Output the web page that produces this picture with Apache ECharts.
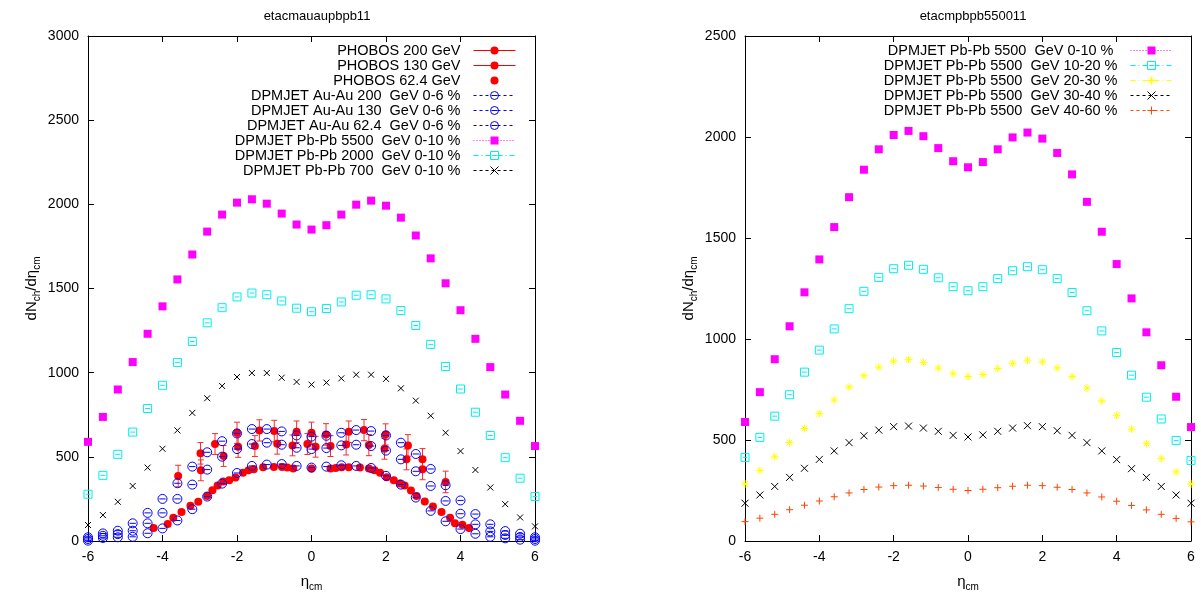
<!DOCTYPE html>
<html><head><meta charset="utf-8">
<script src="https://cdn.jsdelivr.net/npm/echarts@6/dist/echarts.min.js"></script>
<style>html,body{margin:0;padding:0;background:#fff}#c{width:1201px;height:597px}</style>
</head><body><div id="c"></div><script>
// ---------- data ----------
const xTicks = [-6, -4, -2, 0, 2, 4, 6];
const yTicksLeft = [0, 500, 1000, 1500, 2000, 2500, 3000];
const yTicksRight = [0, 500, 1000, 1500, 2000, 2500];
const titleLeft = 'etacmauaupbpb11';
const titleRight = 'etacmpbpb550011';

const etaGrid = [-6,-5.6,-5.2,-4.8,-4.4,-4,-3.6,-3.2,-2.8,-2.4,-2,-1.6,-1.2,-0.8,-0.4,0,0.4,0.8,1.2,1.6,2,2.4,2.8,3.2,3.6,4,4.4,4.8,5.2,5.6,6];

// DPMJET Pb-Pb
const pb5500_0_10 = [589,737,900,1063,1231,1394,1554,1702,1838,1939,2010,2030,2004,1945,1880,1850,1876,1939,1998,2022,1992,1921,1815,1679,1531,1371,1201,1033,870,714,564];
const pb2000_0_10 = [278,390,515,647,787,925,1061,1185,1296,1386,1450,1473,1463,1426,1383,1362,1381,1420,1460,1463,1438,1369,1280,1168,1037,903,765,627,495,373,264];
const pb700_0_10  = [95,154,233,327,436,548,657,761,848,921,974,998,998,970,945,929,941,966,988,988,963,907,834,744,643,534,422,318,219,140,87];
const pb5500_10_20 = [414,513,618,724,836,945,1050,1150,1236,1305,1348,1365,1345,1303,1259,1239,1259,1299,1338,1358,1343,1299,1230,1140,1040,933,821,712,604,498,399];
const pb5500_20_30 = [283,350,417,488,557,630,698,762,818,861,890,898,884,856,828,814,824,854,880,895,887,857,814,757,693,622,554,482,409,342,283];
const pb5500_30_40 = [187,228,270,315,360,404,446,487,521,549,566,569,559,543,523,515,525,543,559,571,566,546,523,487,446,403,358,315,270,228,187];
const pb5500_40_60 = [96,113,132,155,177,198,219,238,255,267,274,276,272,265,256,250,256,264,271,276,274,266,255,238,218,197,176,154,132,112,95];

// DPMJET Au-Au 0-6 %
const au200 = [22,45,61,105,167,250,343,442,527,593,639,665,665,651,627,620,625,643,659,653,627,584,517,428,331,241,160,99,59,43,22];
const au130 = [12,31,41,61,105,167,250,335,424,501,546,576,584,572,554,546,552,568,572,564,537,485,414,327,238,162,99,57,36,24,12];
const au624 = [2,18,22,25,46,75,122,189,264,341,404,446,454,457,446,436,442,450,446,434,387,335,258,179,117,71,43,25,16,8,2];

// PHOBOS
const ph200Eta = [-3.58,-2.98,-2.59,-2.0,-1.4,-1.0,-0.4,0,0.39,1.0,1.41,1.99,2.59,2.98,3.6];
const ph200Val = [386,521,576,643,657,653,649,643,633,649,659,633,568,485,351];
const ph200Err = [64,64,62,63,63,64,64,63,64,64,63,63,64,64,64];
const ph130Eta = [-2.97,-2.36,-1.97,-1.52,-0.92,-0.51,-0.11,0.11,0.51,0.93,1.54,1.96,2.55,2.98];
const ph130Val = [420,505,560,564,578,568,576,560,564,574,570,548,485,426];
const ph130Err = [62,62,63,62,62,62,62,62,62,63,63,62,62,62];
const ph624Eta = [-4.24,-3.86,-3.71,-3.49,-3.25,-3.04,-2.8,-2.66,-2.52,-2.37,-2.21,-2.04,-1.84,-1.69,-1.55,-1.3,-1.01,-0.79,-0.65,-0.49,0,0.51,0.65,0.81,1.0,1.3,1.54,1.69,1.84,2.02,2.21,2.37,2.5,2.67,2.82,3.04,3.26,3.49,3.72,3.85,4.05,4.23];
const ph624Val = [77,101,138,172,209,233,268,302,330,353,361,377,406,420,426,438,440,440,436,430,430,430,434,438,438,436,430,420,406,379,361,341,330,300,268,235,205,172,138,105,96,77];

// ---------- styling ----------
const FONT = 'Liberation Sans, Arial, sans-serif';
const SYM_CIRC = 'path://M0,10A10,10,0,1,1,20,10A10,10,0,1,1,0,10ZM3,10L17,10';
const SYM_SQ = 'path://M0,0L20,0L20,20L0,20ZM4,10L16,10';
const SYM_X = 'path://M0,0L20,20M20,0L0,20';
const SYM_PLUS = 'path://M10,0L10,20M0,10L20,10';
const SYM_STAR = 'path://M10,0L10,20M0,10L20,10M3,3L17,17M17,3L3,17';

function pairs(xs, ys) { return xs.map((x, i) => [x, ys[i]]); }

function ser(name, xs, ys, gi, symbol, size, color, filled, dash) {
  return {
    type: 'line', name: name, xAxisIndex: gi * 2, yAxisIndex: gi * 2,
    data: pairs(xs, ys), symbol: symbol, symbolSize: size, showSymbol: true,
    lineStyle: { opacity: 0, color: color, width: 1, type: dash },
    itemStyle: filled ? { color: color } : { color: 'none', borderColor: color, borderWidth: 1 },
    emphasis: { disabled: true }, animation: false, silent: true, clip: false
  };
}
function errSer(name, xs, ys, es) {
  return {
    type: 'custom', name: name, xAxisIndex: 0, yAxisIndex: 0, silent: true, animation: false,
    data: xs.map((x, i) => [x, ys[i], es[i]]),
    encode: { x: 0, y: 1 },
    renderItem: function (params, api) {
      const x = api.value(0), y = api.value(1), e = api.value(2);
      const p1 = api.coord([x, y + e]), p2 = api.coord([x, y - e]);
      const c = 3, st = { stroke: '#f03030', lineWidth: 1 };
      return { type: 'group', children: [
        { type: 'line', shape: { x1: p1[0], y1: p1[1], x2: p2[0], y2: p2[1] }, style: st },
        { type: 'line', shape: { x1: p1[0] - c, y1: p1[1], x2: p1[0] + c, y2: p1[1] }, style: st },
        { type: 'line', shape: { x1: p2[0] - c, y1: p2[1], x2: p2[0] + c, y2: p2[1] }, style: st }
      ]};
    }
  };
}

const RED = '#ff0000', BLUE = '#0000ff', MAG = '#ff00ff', CYAN = '#00eeee', BLACK = '#000000', YEL = '#ffff00', ORA = '#ff4500';
const DOT = [1, 2], DASHDOT = [5, 3, 1, 3], DASH = [3, 3];

const series = [
  errSer('e200', ph200Eta, ph200Val, ph200Err),
  errSer('e130', ph130Eta, ph130Val, ph130Err),
  ser('PHOBOS 200 GeV', ph200Eta, ph200Val, 0, 'circle', 8, RED, true, 'solid'),
  ser('PHOBOS 130 GeV', ph130Eta, ph130Val, 0, 'circle', 8, RED, true, 'solid'),
  ser('PHOBOS 62.4 GeV', ph624Eta, ph624Val, 0, 'circle', 8, RED, true, 'solid'),
  ser('DPMJET Au-Au 200  GeV 0-6 %', etaGrid, au200, 0, SYM_CIRC, 9, BLUE, false, DASH),
  ser('DPMJET Au-Au 130  GeV 0-6 %', etaGrid, au130, 0, SYM_CIRC, 9, BLUE, false, DASH),
  ser('DPMJET Au-Au 62.4  GeV 0-6 %', etaGrid, au624, 0, SYM_CIRC, 9, BLUE, false, DASH),
  ser('DPMJET Pb-Pb 5500  GeV 0-10 %', etaGrid, pb5500_0_10, 0, 'rect', 8, MAG, true, DOT),
  ser('DPMJET Pb-Pb 2000  GeV 0-10 %', etaGrid, pb2000_0_10, 0, SYM_SQ, 8, CYAN, false, DASHDOT),
  ser('DPMJET Pb-Pb 700  GeV 0-10 %', etaGrid, pb700_0_10, 0, SYM_X, 6, BLACK, false, DASH),
  ser('DPMJET Pb-Pb 5500  GeV 0-10 % ', etaGrid, pb5500_0_10, 1, 'rect', 8, MAG, true, DOT),
  ser('DPMJET Pb-Pb 5500  GeV 10-20 %', etaGrid, pb5500_10_20, 1, SYM_SQ, 8, CYAN, false, DASHDOT),
  ser('DPMJET Pb-Pb 5500  GeV 20-30 %', etaGrid, pb5500_20_30, 1, SYM_STAR, 8, YEL, false, DASHDOT),
  ser('DPMJET Pb-Pb 5500  GeV 30-40 %', etaGrid, pb5500_30_40, 1, SYM_X, 7, BLACK, false, DASH),
  ser('DPMJET Pb-Pb 5500  GeV 40-60 %', etaGrid, pb5500_40_60, 1, SYM_PLUS, 7, ORA, false, DASH)
];

const plainNum = v => String(v);

function xAx(gi, top) {
  return {
    gridIndex: gi, type: 'value', min: xTicks[0], max: xTicks[xTicks.length - 1], interval: xTicks[1] - xTicks[0],
    position: top ? 'top' : 'bottom',
    axisLine: { show: true, onZero: false, lineStyle: { color: '#000', width: 1 } },
    axisTick: { show: true, inside: true, length: 6, lineStyle: { color: '#000' } },
    axisLabel: { show: !top, color: '#000', fontSize: 14, fontFamily: FONT, margin: 9, formatter: plainNum },
    splitLine: { show: false },
    name: top ? '' : '{a|η}{s|cm}', nameLocation: 'middle', nameGap: 31,
    nameTextStyle: { rich: { a: { fontSize: 15, color: '#000', fontFamily: FONT }, s: { fontSize: 10, color: '#000', fontFamily: FONT, padding: [10, 0, 0, 0] } } }
  };
}
function yAx(gi, right, ticks) {
  return {
    gridIndex: gi, type: 'value', min: ticks[0], max: ticks[ticks.length - 1], interval: ticks[1] - ticks[0],
    position: right ? 'right' : 'left',
    axisLine: { show: true, onZero: false, lineStyle: { color: '#000', width: 1 } },
    axisTick: { show: true, inside: true, length: 6, lineStyle: { color: '#000' } },
    axisLabel: { show: !right, color: '#000', fontSize: 14, fontFamily: FONT, margin: 9, formatter: plainNum },
    splitLine: { show: false },
    name: right ? '' : '{a|dN}{s|ch}{a|/dη}{s|cm}', nameLocation: 'middle', nameGap: 46,
    nameTextStyle: { rich: { a: { fontSize: 15, color: '#000', fontFamily: FONT }, s: { fontSize: 10, color: '#000', fontFamily: FONT, padding: [10, 0, 0, 0] } } }
  };
}

function legendFor(names, rightPx, width, lineSpecs) {
  return {
    show: true, orient: 'vertical', align: 'right', right: rightPx, top: 43, padding: 0,
    itemGap: 0, itemWidth: 42, itemHeight: 10, selectedMode: false,
    textStyle: { fontSize: 14.5, color: '#000', fontFamily: FONT, width: width, lineHeight: 14.6, padding: [0, 8, 0, 0] },
    lineStyle: { width: 1, opacity: 1 },
    itemStyle: { opacity: 1, borderWidth: 1 },
    data: names.map((n, i) => Object.assign({ name: n }, lineSpecs[i] || {}))
  };
}

const legendLeftNames = ['PHOBOS 200 GeV','PHOBOS 130 GeV','PHOBOS 62.4 GeV','DPMJET Au-Au 200  GeV 0-6 %','DPMJET Au-Au 130  GeV 0-6 %','DPMJET Au-Au 62.4  GeV 0-6 %','DPMJET Pb-Pb 5500  GeV 0-10 %','DPMJET Pb-Pb 2000  GeV 0-10 %','DPMJET Pb-Pb 700  GeV 0-10 %'];
const legendRightNames = ['DPMJET Pb-Pb 5500  GeV 0-10 % ','DPMJET Pb-Pb 5500  GeV 10-20 %','DPMJET Pb-Pb 5500  GeV 20-30 %','DPMJET Pb-Pb 5500  GeV 30-40 %','DPMJET Pb-Pb 5500  GeV 40-60 %'];

const option = {
  backgroundColor: '#fff',
  animation: false,
  title: [
    { text: titleLeft, left: 312, top: 5, textAlign: 'center', textStyle: { fontSize: 13, fontWeight: 'normal', color: '#000', fontFamily: FONT } },
    { text: titleRight, left: 968, top: 5, textAlign: 'center', textStyle: { fontSize: 13, fontWeight: 'normal', color: '#000', fontFamily: FONT } }
  ],
  grid: [
    { left: 88, top: 36, width: 447, height: 506, containLabel: false },
    { left: 745, top: 36, width: 446, height: 506, containLabel: false }
  ],
  xAxis: [xAx(0, false), xAx(0, true), xAx(1, false), xAx(1, true)],
  yAxis: [yAx(0, false, yTicksLeft), yAx(0, true, yTicksLeft), yAx(1, false, yTicksRight), yAx(1, true, yTicksRight)],
  legend: [
    legendFor(legendLeftNames, 685, 240, [{}, {}, { lineStyle: { opacity: 0 } }]),
    legendFor(legendRightNames, 28, 260, [])
  ],
  series: series
};

const chart = echarts.init(document.getElementById('c'), null, { renderer: 'canvas' });
chart.setOption(option);
</script></body></html>
